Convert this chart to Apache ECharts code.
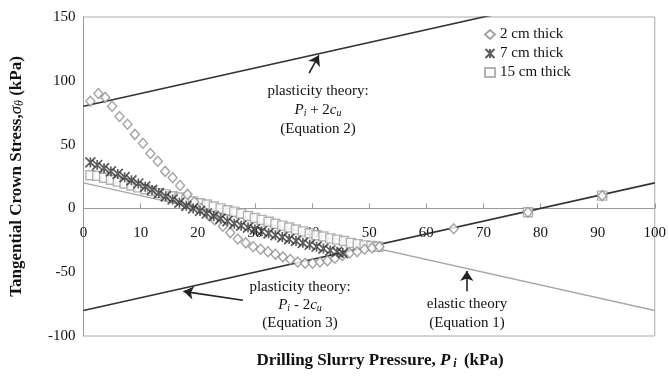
<!DOCTYPE html>
<html>
<head>
    <meta charset="utf-8">
    <title>Crown stress</title>
    <script src="https://cdn.jsdelivr.net/npm/echarts@6/dist/echarts.min.js"></script>
</head>
<body style="margin:0;background-color:#fff;">
    <div id="main" style="width:669px;height:379px;"></div>
    <script type="text/javascript">
        // 2 cm thick (diamonds)
        var p2cm = [1.2,2.6,3.8,5.0,6.3,7.7,9.0,10.4,11.7,13.0,14.3,15.6,16.9,18.2,19.4,20.6,21.8,23.0,24.4,25.7,27.0,28.4,29.7,31.0,32.3,33.6,34.9,36.2,37.5,38.8,40.1,41.4,42.7,44.0,45.3,46.6,47.9,49.2,50.5,51.8,64.8,77.8,90.8];
        var s2cm = [84,90,87,80,72,66,58,51,43,37,29,24,18,11,5,0,-5,-9,-14,-19,-24,-27,-30,-32,-34,-36,-38,-40,-42,-43,-43,-42,-41,-39,-37,-35,-34,-32,-31,-30,-16,-3,10];

        // 7 cm thick (stars)
        var p7cm = [1.2,2.4,3.6,4.8,6.0,7.2,8.4,9.6,10.8,12.0,13.2,14.4,15.6,16.8,18.0,19.2,20.4,21.6,22.8,24.0,25.2,26.4,27.6,28.8,30.0,31.2,32.4,33.6,34.8,36.0,37.2,38.4,39.6,40.8,42.0,43.2,44.4,45.4];
        var s7cm = [36,34,31.5,29,27,24.5,22,19.5,17,14.5,12,9.5,7,4.5,2,0,-2,-4,-6,-8,-10,-12,-13.5,-15,-16.5,-18,-19.5,-21,-22.5,-24,-25.5,-27,-28.5,-30,-31.5,-33,-34,-35];

        // 15 cm thick (squares)
        var p15cm = [1.2,2.4,3.6,4.8,6.0,7.2,8.4,9.6,10.8,12.0,13.2,14.4,15.6,16.8,18.0,19.2,20.4,21.6,22.8,24.0,25.2,26.4,27.6,28.8,30.0,31.2,32.4,33.6,34.8,36.0,37.2,38.4,39.6,40.8,42.0,43.2,44.4,45.6,46.8,48.0,49.2,50.4,51.6,77.8,90.8];
        var s15cm = [26,25.5,24,22.5,21,19.5,18,16.5,15,13.5,12,11,9.5,8.5,7,5.5,4,3,1.5,0,-1.5,-2.5,-4,-6,-7.5,-9,-10.5,-12,-13.5,-15,-16.5,-18,-19.5,-21,-22,-23.5,-24.5,-25.5,-27,-28,-29,-29.5,-30,-3,10];

        // theory lines (end points)
        var eq1Line = [[0,20],[100,-80]];   // elastic
        var eq2Line = [[0,80],[73,153]];    // Pi + 2cu
        var eq3Line = [[0,-80],[100,20]];   // Pi - 2cu

        // annotation arrows [tail, tip]
        var eq2Arrow = [[39.5,106],[41.2,120]];
        var eq3Arrow = [[27.9,-72],[17.5,-65]];
        var eq1Arrow = [[67.1,-65],[67.1,-49]];

        var xTicks = [0,10,20,30,40,50,60,70,80,90,100];
        var yTicks = [-100,-50,0,50,100,150];

        function pairs(xs, ys){
            var out = [];
            for(var i=0;i<xs.length;i++){ out.push([xs[i], ys[i]]); }
            return out;
        }

        var serif = 'Liberation Serif';
        var myChart = echarts.init(document.getElementById('main'));

        var arrowLine = function(pts){
            return {
                silent: true,
                symbol: ['none','arrow'],
                symbolSize: 10,
                label: {show:false},
                lineStyle: {color:'#222', width:1.6, type:'solid'},
                data: [[{coord: pts[0]}, {coord: pts[1]}]]
            };
        };

        var option = {
            animation: false,
            textStyle: {fontFamily: serif},
            grid: {left:81, right:11, top:17, bottom:43, show:true, borderColor:'#aaa', borderWidth:1},
            legend: {
                orient: 'vertical',
                left: 478, top: 22,
                itemWidth: 10, itemHeight: 9, itemGap: 4,
                textStyle: {fontFamily: serif, fontSize: 15, color:'#111'},
                data: ['2 cm thick','7 cm thick','15 cm thick']
            },
            xAxis: {
                type:'value', min:0, max:100, interval:10,
                // axis sits on y = 0 (grid height 319px over 250 kPa, 100 kPa below zero)
                offset: -127.6,
                axisLine: {onZero:false, lineStyle:{color:'#999'}},
                axisTick: {inside:true, length:5, lineStyle:{color:'#999'}},
                axisLabel: {margin:17, fontSize:15, color:'#111', fontFamily: serif,
                    formatter: function(v){ return xTicks.indexOf(v) >= 0 ? v : ''; }},
                splitLine: {show:false}
            },
            yAxis: {
                type:'value', min:-100, max:150, interval:50,
                axisLine: {show:true, lineStyle:{color:'#999'}},
                axisTick: {show:false},
                axisLabel: {margin:8, fontSize:15, color:'#111', fontFamily: serif,
                    formatter: function(v){ return yTicks.indexOf(v) >= 0 ? v : ''; }},
                splitLine: {show:false},
                name: '{b|Tangential Crown Stress,}{s|σ}{sub|θ}{b| (kPa)}',
                nameLocation: 'middle', nameGap: 58, nameRotate: 90,
                nameTextStyle: {
                    rich: {
                        b: {fontFamily: serif, fontWeight:'bold', fontSize:17, color:'#111'},
                        s: {fontFamily: serif, fontStyle:'italic', fontSize:17, color:'#111'},
                        sub: {fontFamily: serif, fontStyle:'italic', fontSize:12, color:'#111', padding:[6,0,0,0]}
                    }
                }
            },
            series: [
                {
                    name:'elastic', type:'line', data: eq1Line, symbol:'none',
                    lineStyle:{color:'#a8a8a8', width:1.4}, z:1,
                    markLine: arrowLine(eq1Arrow)
                },
                {
                    name:'eq2', type:'line', data: eq2Line, symbol:'none',
                    lineStyle:{color:'#333', width:1.6}, z:1,
                    markLine: arrowLine(eq2Arrow)
                },
                {
                    name:'eq3', type:'line', data: eq3Line, symbol:'none',
                    lineStyle:{color:'#333', width:1.6}, z:1,
                    markLine: arrowLine(eq3Arrow)
                },
                {
                    name:'2 cm thick', type:'scatter', data: pairs(p2cm, s2cm),
                    symbol:'diamond', symbolSize:[9,10],
                    itemStyle:{color:'#fff', borderColor:'#8c8c8c', borderWidth:1.4}, z:3
                },
                {
                    name:'7 cm thick', type:'scatter', data: pairs(p7cm, s7cm),
                    symbol:'path://M0,0L10,10M10,0L0,10M5,0L5,10', symbolSize:10,
                    itemStyle:{color:'none', borderColor:'#333', borderWidth:1.7}, z:4
                },
                {
                    name:'15 cm thick', type:'scatter', data: pairs(p15cm, s15cm),
                    symbol:'rect', symbolSize:9,
                    itemStyle:{color:'#fff', borderColor:'#a0a0a0', borderWidth:1.4}, z:2
                }
            ],
            graphic: [
                {
                    type:'text', x:318, y:82,
                    style:{
                        text:'{t|plasticity theory:}\n{i|P}{sub|i}{t| + 2}{i|c}{sub|u}\n{t|(Equation 2)}',
                        align:'center', lineHeight:19,
                        rich:{
                            t:{fontFamily:serif, fontSize:15, fill:'#111'},
                            i:{fontFamily:serif, fontSize:15, fontStyle:'italic', fill:'#111'},
                            sub:{fontFamily:serif, fontSize:10, fontStyle:'italic', fill:'#111', padding:[6,0,0,0]}
                        }
                    }
                },
                {
                    type:'text', x:300, y:278,
                    style:{
                        text:'{t|plasticity theory:}\n{i|P}{sub|i}{t| - 2}{i|c}{sub|u}\n{t|(Equation 3)}',
                        align:'center', lineHeight:18,
                        rich:{
                            t:{fontFamily:serif, fontSize:15, fill:'#111'},
                            i:{fontFamily:serif, fontSize:15, fontStyle:'italic', fill:'#111'},
                            sub:{fontFamily:serif, fontSize:10, fontStyle:'italic', fill:'#111', padding:[6,0,0,0]}
                        }
                    }
                },
                {
                    type:'text', x:467, y:295,
                    style:{
                        text:'elastic theory\n(Equation 1)',
                        align:'center', lineHeight:19,
                        font:'15px "Liberation Serif"', fill:'#111'
                    }
                },
                {
                    type:'text', x:380, y:352,
                    style:{
                        text:'{b|Drilling Slurry Pressure, }{i|P}{sub| i}{b| (kPa)}',
                        align:'center',
                        rich:{
                            b:{fontFamily:serif, fontWeight:'bold', fontSize:17, fill:'#111'},
                            i:{fontFamily:serif, fontWeight:'bold', fontStyle:'italic', fontSize:17, fill:'#111'},
                            sub:{fontFamily:serif, fontWeight:'bold', fontStyle:'italic', fontSize:12, fill:'#111', padding:[6,3,0,0]}
                        }
                    }
                }
            ]
        };
        myChart.setOption(option);
    </script>
</body>
</html>
